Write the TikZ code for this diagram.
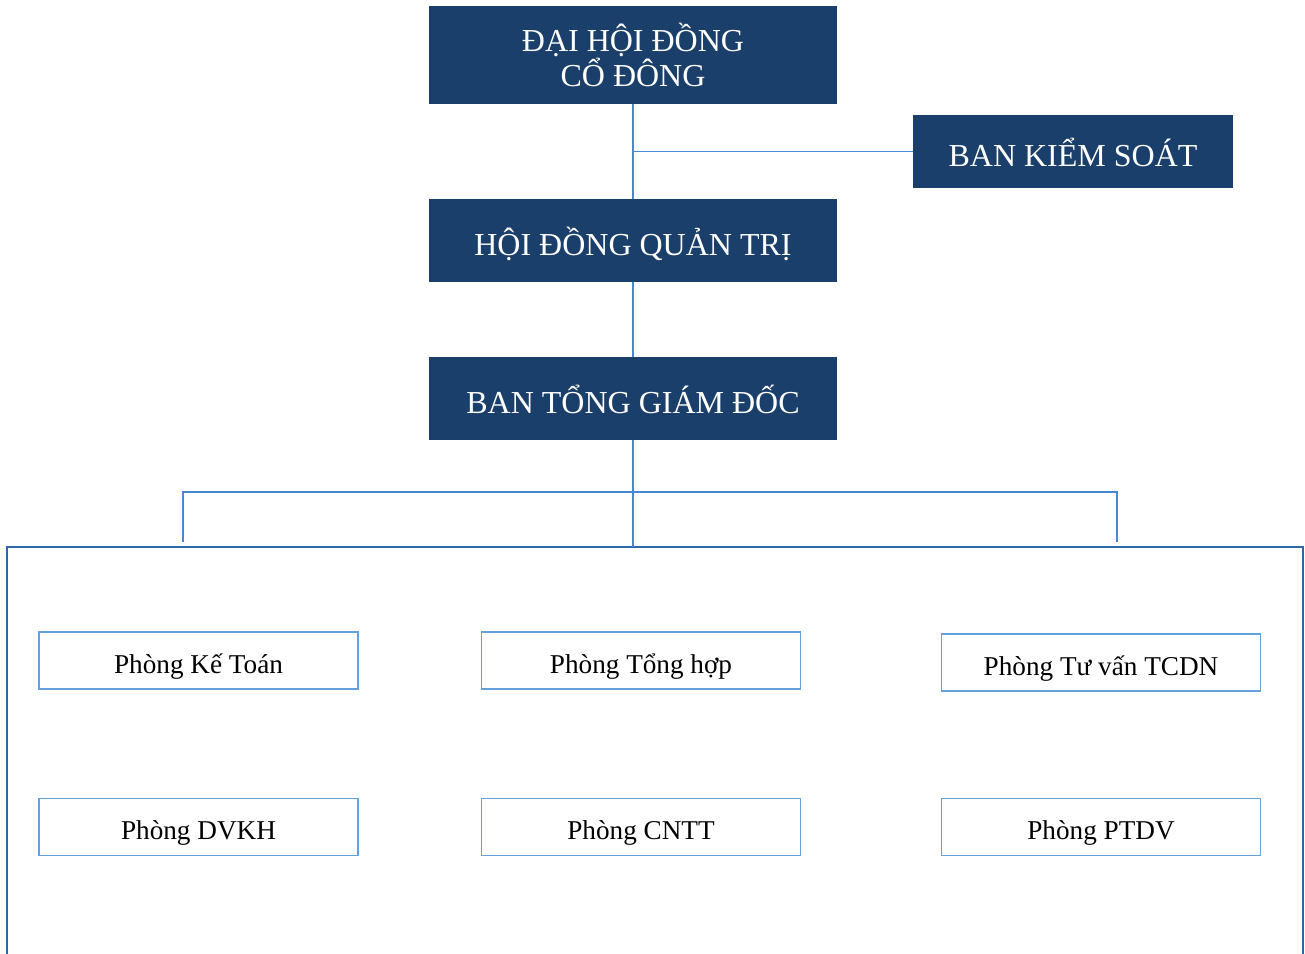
\documentclass[tikz,border=0pt]{standalone}
\usepackage{fontspec}
\setmainfont{Liberation Serif}
\definecolor{navy}{RGB}{27,63,107}
\definecolor{linkblue}{RGB}{70,136,210}
\definecolor{framblue}{RGB}{46,104,170}
\definecolor{boxblue}{RGB}{100,160,218}
\tikzset{
  topbox/.style={draw=none, fill=navy, text=white, inner sep=0pt, align=center,
    font=\fontsize{32}{35}\selectfont},
  onel/.style={text height=29pt, text depth=0pt},
  unitbox/.style={draw=boxblue, line width=1.3pt, fill=white, inner sep=0pt,
    minimum width=319pt, minimum height=57pt, text height=25pt, text depth=0pt,
    font=\fontsize{27.2}{30}\selectfont},
  link/.style={draw=linkblue, line width=1.3pt},
  frame/.style={draw=framblue, line width=1.6pt}
}
\begin{document}
\begin{tikzpicture}[x=1pt,y=-1pt]
\useasboundingbox (0,0) rectangle (1305,953);
% frame
\coordinate (fbl) at (7,960);
\coordinate (ftl) at (7,547);
\coordinate (ftr) at (1303,547);
\coordinate (fbr) at (1303,960);
\draw[frame] (fbl) -- (ftl) -- (ftr) -- (fbr);
% top boxes
\node[topbox, minimum width=408pt, minimum height=98pt] (dhd) at (633,55) {ĐẠI HỘI ĐỒNG\\CỔ ĐÔNG};
\node[topbox, onel, minimum width=320pt, minimum height=73pt] (bks) at (1073,151.5) {BAN KIỂM SOÁT};
\node[topbox, onel, minimum width=408pt, minimum height=83pt] (hdqt) at (633,240.5) {HỘI ĐỒNG QUẢN TRỊ};
\node[topbox, onel, minimum width=408pt, minimum height=83pt] (btgd) at (633,398.5) {BAN TỔNG GIÁM ĐỐC};
% connectors
\draw[link] (dhd.south) -- (hdqt.north);
\draw[link] (bks.west) -- (bks.west -| dhd.south);
\draw[link] (hdqt.south) -- (btgd.north);
\coordinate (fmid) at (633,547);
\draw[link] (btgd.south) -- (fmid);
\coordinate (bl) at (183,542);
\coordinate (blt) at (183,492);
\coordinate (brt) at (1117,492);
\coordinate (br) at (1117,542);
\draw[link] (bl) -- (blt) -- (brt) -- (br);
% units
\node[unitbox] (kt) at (198.5,660.5) {Phòng Kế Toán};
\node[unitbox] (th) at (641,660.5) {Phòng Tổng hợp};
\node[unitbox] (tv) at (1101,662.5) {Phòng Tư vấn TCDN};
\node[unitbox] (dvkh) at (198.5,827) {Phòng DVKH};
\node[unitbox] (cntt) at (641,827) {Phòng CNTT};
\node[unitbox] (ptdv) at (1101,827) {Phòng PTDV};
\end{tikzpicture}
\end{document}
